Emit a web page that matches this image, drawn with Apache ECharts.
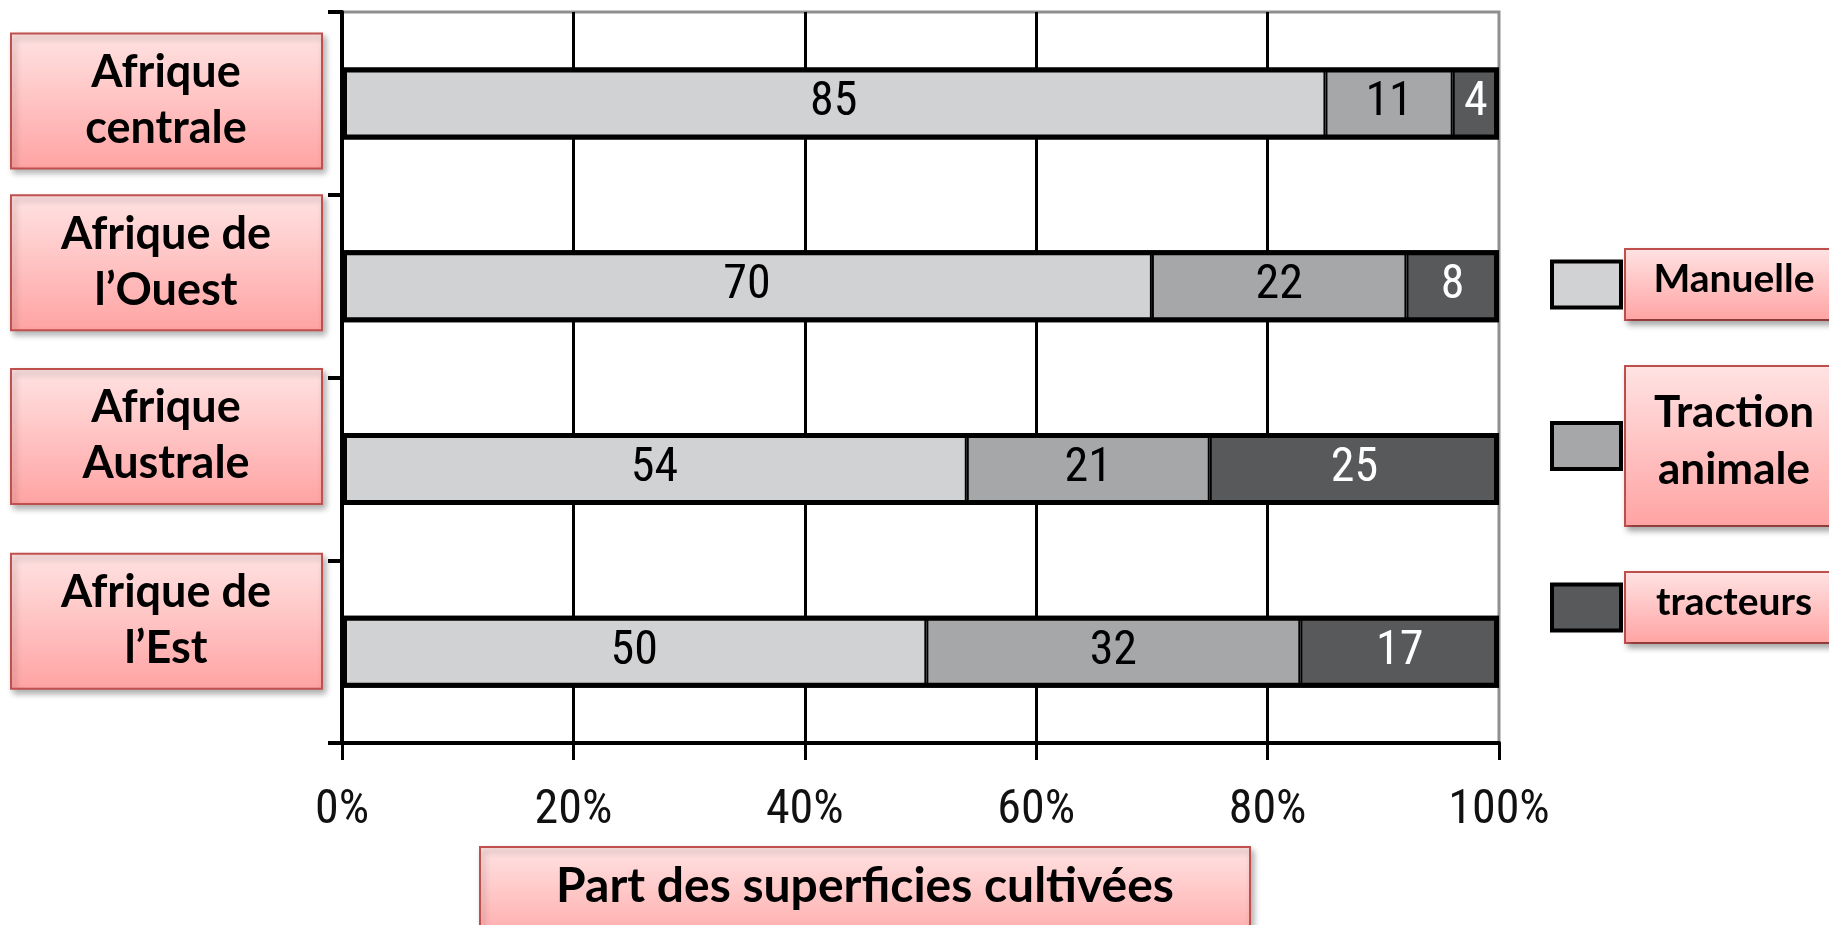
<!DOCTYPE html>
<html>
<head>
<meta charset="utf-8">
<title>Part des superficies cultivées</title>
<script src="https://cdn.jsdelivr.net/npm/echarts@6/dist/echarts.min.js"></script>
<style>
  html, body { margin: 0; padding: 0; background: #fff; }
  #chart { width: 1829px; height: 925px; }
</style>
</head>
<body>
<div id="chart"></div>
<script>
// données
const categories = ['Afrique centrale', 'Afrique de l’Ouest', 'Afrique Australe', 'Afrique de l’Est']
const categoryLines = ['Afrique\ncentrale', 'Afrique de\nl’Ouest', 'Afrique\nAustrale', 'Afrique de\nl’Est']
const seriesNames = ['Manuelle', 'Traction animale', 'tracteurs']
const manuelle = [85, 70, 54, 50]
const traction = [11, 22, 21, 32]
const tracteurs = [4, 8, 25, 17]
const xTicks = [0, 20, 40, 60, 80, 100]
const axisTitle = 'Part des superficies cultivées'

// mise en page des cadres roses (décalage vertical par rapport au centre de la barre)
const boxShift = [-3, -24, -33, -31]

const colors = ['#d1d2d4', '#a6a7a9', '#58595b']
const labelFont = "'Roboto Condensed', 'DejaVu Sans Condensed', sans-serif"
const boxFont = 'Lato'

function pink () {
  return new echarts.graphic.LinearGradient(0, 0, 0, 1, [
    { offset: 0, color: '#ffe3e3' },
    { offset: 1, color: '#ffa3a3' }
  ])
}

// barres 100 % empilées : chaque ligne est ramenée à son total
const totals = categories.map((c, i) => manuelle[i] + traction[i] + tracteurs[i])
function toPercent (arr) {
  return arr.map((v, i) => ({ value: v / totals[i] * 100, raw: v }))
}

const chart = echarts.init(document.getElementById('chart'))

const stacked = [manuelle, traction, tracteurs].map((arr, k) => ({
  name: seriesNames[k],
  type: 'bar',
  stack: 'total',
  barWidth: 72,
  barGap: '-100%',
  data: toPercent(arr),
  itemStyle: {
    color: colors[k],
    borderColor: '#000',
    borderWidth: 2
  },
  label: {
    show: true,
    position: 'inside',
    formatter: p => p.data.raw,
    fontFamily: labelFont,
    fontSize: 48,
    color: k === 2 ? '#fff' : '#000'
  }
}))

chart.setOption({
  animation: false,
  grid: {
    left: 342,
    right: 330,
    top: 12,
    bottom: 182,
    show: true,
    borderColor: '#8f8f8f',
    borderWidth: 3,
    backgroundColor: 'transparent'
  },
  title: {
    text: '{a|' + axisTitle + '}',
    left: 480,
    top: 843,
    padding: [16, 0, 40, 0],
    backgroundColor: pink(),
    borderColor: '#c0504d',
    borderWidth: 2,
    shadowColor: 'rgba(0,0,0,0.3)',
    shadowBlur: 6,
    shadowOffsetX: 3,
    shadowOffsetY: 4,
    textStyle: {
      rich: {
        a: {
          width: 770,
          align: 'center',
          fontFamily: boxFont,
          fontWeight: 'bold',
          fontSize: 48,
          lineHeight: 56,
          color: '#000'
        }
      }
    }
  },
  legend: {
    data: seriesNames,
    orient: 'vertical',
    left: 1550,
    top: 248,
    padding: 0,
    itemGap: 44,
    itemWidth: 69,
    itemHeight: 46,
    icon: 'rect',
    selectedMode: false,
    itemStyle: { borderColor: '#000', borderWidth: 4 },
    formatter: name => {
      const words = name.split(' ')
      if (words.length > 1) return words.map(w => '{t|' + w + '}').join('\n')
      return '{s|' + name + '}'
    },
    textStyle: {
      backgroundColor: pink(),
      borderColor: '#c0504d',
      borderWidth: 2,
      padding: [17, 0, 27, 0],
      shadowColor: 'rgba(0,0,0,0.3)',
      shadowBlur: 6,
      shadowOffsetX: 3,
      shadowOffsetY: 4,
      rich: {
        s: { width: 216, align: 'center', fontFamily: boxFont, fontWeight: 'bold', fontSize: 39, lineHeight: 25, color: '#000' },
        t: { width: 216, align: 'center', fontFamily: boxFont, fontWeight: 'bold', fontSize: 44, lineHeight: 57, color: '#000' }
      }
    }
  },
  xAxis: {
    type: 'value',
    min: xTicks[0],
    max: xTicks[xTicks.length - 1],
    interval: xTicks[1] - xTicks[0],
    axisLine: { show: true, lineStyle: { color: '#000', width: 4 } },
    axisTick: { show: true, length: 17, lineStyle: { color: '#000', width: 3 } },
    axisLabel: {
      formatter: '{value}%',
      margin: 44,
      fontFamily: labelFont,
      fontSize: 48,
      color: '#111'
    },
    splitLine: {
      show: true,
      showMaxLine: false,
      lineStyle: { color: '#000', width: 3 }
    }
  },
  yAxis: {
    type: 'category',
    inverse: true,
    data: categories,
    axisLine: { show: true, lineStyle: { color: '#000', width: 4 } },
    axisTick: { show: true, length: 14, lineStyle: { color: '#000', width: 4 } },
    axisLabel: { show: false },
    splitLine: { show: false }
  },
  series: [
    ...stacked,
    {
      // cadre épais autour de chaque barre
      name: 'cadre',
      type: 'bar',
      barWidth: 72,
      barGap: '-100%',
      z: 3,
      silent: true,
      data: categories.map(() => 100),
      itemStyle: { color: 'rgba(0,0,0,0)', borderColor: '#000', borderWidth: 5 },
      label: { show: false }
    }
  ]
})

// étiquettes des régions dans des cadres roses
const boxes = []
categoryLines.forEach((txt, i) => {
  const cy = chart.convertToPixel({ yAxisIndex: 0 }, categories[i]) + boxShift[i]
  boxes.push({
    type: 'rect',
    shape: { x: 11, y: cy - 67, width: 311, height: 135 },
    style: {
      fill: pink(),
      stroke: '#c0504d',
      lineWidth: 2,
      shadowColor: 'rgba(0,0,0,0.3)',
      shadowBlur: 6,
      shadowOffsetX: 3,
      shadowOffsetY: 4
    },
    z: 10
  })
  boxes.push({
    type: 'text',
    x: 166,
    y: cy,
    z: 11,
    style: {
      text: txt,
      font: 'bold 45px Lato',
      fill: '#000',
      align: 'center',
      verticalAlign: 'middle',
      lineHeight: 56
    }
  })
})
chart.setOption({ graphic: boxes })
</script>
</body>
</html>
